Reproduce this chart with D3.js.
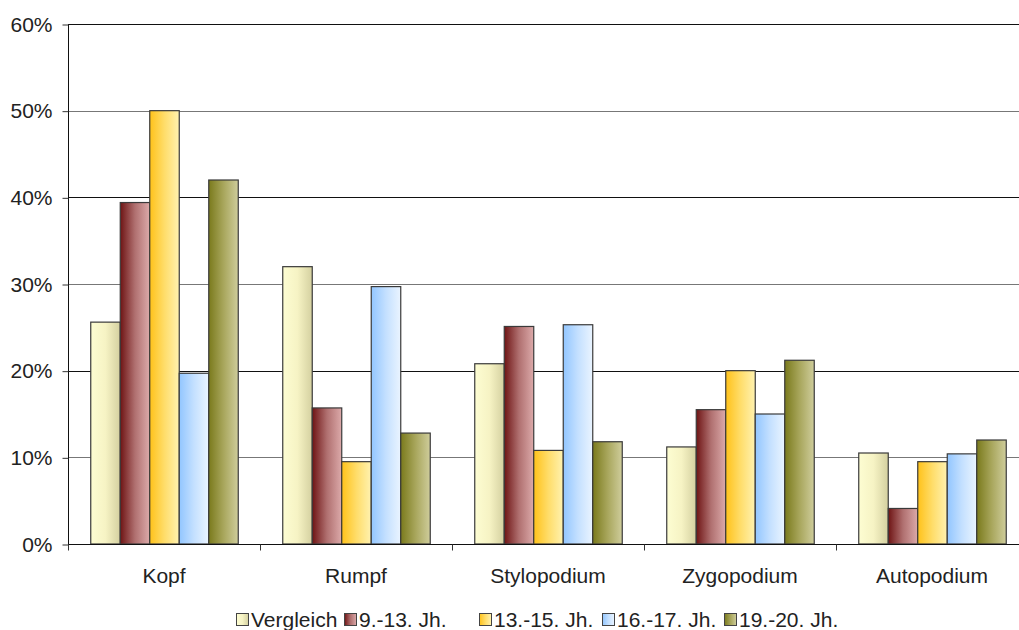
<!DOCTYPE html>
<html>
<head>
<meta charset="utf-8">
<script src="https://cdn.jsdelivr.net/npm/d3@7"></script>
<style>
  html, body { margin: 0; padding: 0; background: #fff; }
  svg { display: block; }
  text { font-family: "Liberation Sans", Arial, sans-serif; fill: #222; }
</style>
</head>
<body>
<svg id="chart" width="1019" height="630"></svg>
<script>
// Body regions and percentage shares per period
const categories = ["Kopf", "Rumpf", "Stylopodium", "Zygopodium", "Autopodium"];
const seriesNames = ["Vergleich", "9.-13. Jh.", "13.-15. Jh.", "16.-17. Jh.", "19.-20. Jh."];
const vergleich = [25.6, 32.0, 20.8, 11.2, 10.5];
const jh9_13   = [39.4, 15.7, 25.1, 15.5, 4.1];
const jh13_15  = [50.0, 9.5, 10.8, 20.0, 9.5];
const jh16_17  = [19.7, 29.7, 25.3, 15.0, 10.4];
const jh19_20  = [42.0, 12.8, 11.8, 21.2, 12.0];
const yTicks = [0, 10, 20, 30, 40, 50, 60];

const seriesValues = [vergleich, jh9_13, jh13_15, jh16_17, jh19_20];
// gradient stops (left -> right) per series
const gradients = [
  ["#fdfdd2", "#f6f3c4", "#d4d0a0"],
  ["#6e1414", "#b07070", "#dcaaaa"],
  ["#ffc21a", "#ffdd6a", "#fff2b0"],
  ["#92c6ff", "#c4e0ff", "#eaf4ff"],
  ["#7a7a1c", "#a8a65c", "#cfcd9c"]
];

const svg = d3.select("#chart");
const plotLeft = 68, plotRight = 1028, plotTop = 24, plotBottom = 544;

const x0 = d3.scaleBand().domain(categories).range([plotLeft, plotRight]).paddingInner(0).paddingOuter(0);
const x1 = d3.scaleBand().domain(seriesNames).range([22.25, x0.bandwidth() - 22.25]).padding(0);
const y = d3.scaleLinear().domain([0, 60]).range([plotBottom, plotTop]);

const defs = svg.append("defs");
gradients.forEach((g, i) => {
  const lg = defs.append("linearGradient").attr("id", "grad" + i)
    .attr("x1", "0%").attr("x2", "100%").attr("y1", "0%").attr("y2", "0%");
  lg.append("stop").attr("offset", "0%").attr("stop-color", g[0]);
  lg.append("stop").attr("offset", "50%").attr("stop-color", g[1]);
  lg.append("stop").attr("offset", "100%").attr("stop-color", g[2]);
});

// horizontal gridlines
svg.append("g").selectAll("line").data(yTicks.filter(d => d > 0)).join("line")
  .attr("x1", plotLeft).attr("x2", plotRight)
  .attr("y1", d => Math.round(y(d)) + 0.5).attr("y2", d => Math.round(y(d)) + 0.5)
  .attr("stroke", d => (d % 20 === 0 ? "#111" : "#777"))
  .attr("stroke-width", 1);

// bars
const groups = svg.append("g").selectAll("g").data(categories).join("g")
  .attr("transform", d => `translate(${x0(d)},0)`);
groups.selectAll("rect")
  .data((c, ci) => seriesNames.map((s, si) => ({ s, si, v: seriesValues[si][ci] })))
  .join("rect")
  .attr("x", d => x1(d.s) + 0.5)
  .attr("width", x1.bandwidth())
  .attr("y", d => y(d.v))
  .attr("height", d => y(0) - y(d.v))
  .attr("fill", d => `url(#grad${d.si})`)
  .attr("stroke", "#3a3a3a")
  .attr("stroke-width", 1.2);

// y axis
const yAxis = d3.axisLeft(y).tickValues(yTicks).tickFormat(d => d + "%").tickSize(6).tickPadding(10);
const ya = svg.append("g").attr("transform", `translate(${plotLeft + 0.5},0.5)`).call(yAxis);
ya.select(".domain").attr("stroke", "#111").attr("d", `M0,${plotTop}V${plotBottom}`);
ya.selectAll(".tick line").attr("stroke", "#333");
ya.selectAll(".tick text").attr("font-size", 21).attr("fill", "#222")
  .style("font-family", '"Liberation Sans", Arial, sans-serif');

// x axis
const xa = svg.append("g").attr("transform", `translate(0,${plotBottom + 0.5})`);
xa.append("line").attr("x1", plotLeft).attr("x2", plotRight).attr("stroke", "#111");
xa.selectAll("line.tk").data(categories).join("line").attr("class", "tk")
  .attr("x1", d => Math.round(x0(d)) + 0.5).attr("x2", d => Math.round(x0(d)) + 0.5)
  .attr("y1", 0).attr("y2", 6).attr("stroke", "#333");
xa.selectAll("text").data(categories).join("text")
  .attr("x", d => x0(d) + x0.bandwidth() / 2)
  .attr("y", 38)
  .attr("text-anchor", "middle")
  .attr("font-size", 21)
  .text(d => d);

// legend
const legendX = [236, 344, 479, 602, 724];
const legend = svg.append("g");
seriesNames.forEach((s, i) => {
  legend.append("rect").attr("x", legendX[i] + 0.5).attr("y", 613.5).attr("width", 12).attr("height", 12)
    .attr("fill", `url(#grad${i})`).attr("stroke", "#444").attr("stroke-width", 1);
  legend.append("text").attr("x", legendX[i] + 15).attr("y", 627).attr("font-size", 21).text(s);
});
</script>
</body>
</html>
